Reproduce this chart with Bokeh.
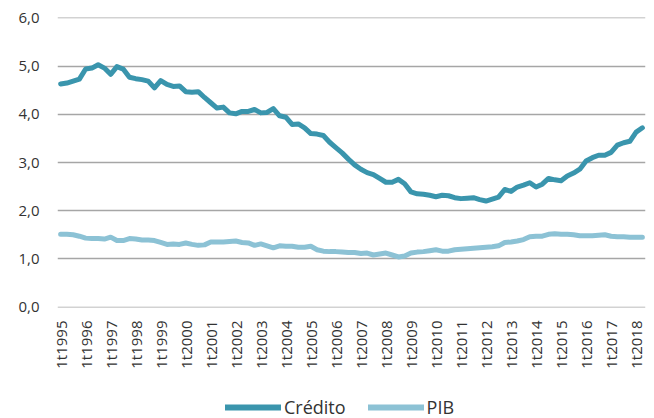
import math
from bokeh.plotting import figure
from bokeh.layouts import column
from bokeh.models import Range1d, FixedTicker, Legend, LegendItem
from bokeh.embed import file_html
from bokeh.resources import INLINE

# ---- data ----
years = list(range(1995, 2019))
quarters = [f"{q}t{y}" for y in years for q in range(1, 5)][:94]

credito = [
    4.63, 4.65, 4.69, 4.73, 4.94, 4.96, 5.03, 4.96, 4.83, 4.99,
    4.94, 4.77, 4.74, 4.72, 4.69, 4.55, 4.70, 4.62, 4.58, 4.59,
    4.47, 4.46, 4.47, 4.35, 4.24, 4.13, 4.15, 4.03, 4.01, 4.06,
    4.06, 4.10, 4.03, 4.04, 4.12, 3.97, 3.94, 3.79, 3.80, 3.72,
    3.60, 3.59, 3.56, 3.42, 3.31, 3.20, 3.07, 2.95, 2.86, 2.79,
    2.75, 2.67, 2.59, 2.59, 2.65, 2.56, 2.39, 2.35, 2.34, 2.32,
    2.29, 2.32, 2.31, 2.27, 2.25, 2.26, 2.27, 2.23, 2.20, 2.24,
    2.28, 2.44, 2.40, 2.49, 2.53, 2.58, 2.49, 2.55, 2.67, 2.64,
    2.62, 2.72, 2.78, 2.86, 3.03, 3.10, 3.15, 3.15, 3.21, 3.36,
    3.41, 3.44, 3.63, 3.72,
]

pib = [
    1.51, 1.51, 1.50, 1.47, 1.43, 1.42, 1.42, 1.41, 1.45, 1.38,
    1.38, 1.42, 1.41, 1.39, 1.39, 1.38, 1.34, 1.30, 1.31, 1.30,
    1.33, 1.30, 1.28, 1.29, 1.35, 1.35, 1.35, 1.36, 1.37, 1.34,
    1.33, 1.28, 1.31, 1.27, 1.23, 1.27, 1.26, 1.26, 1.24, 1.24,
    1.26, 1.19, 1.16, 1.15, 1.15, 1.14, 1.13, 1.13, 1.11, 1.12,
    1.08, 1.10, 1.12, 1.08, 1.04, 1.06, 1.12, 1.14, 1.15, 1.17,
    1.19, 1.16, 1.16, 1.19, 1.20, 1.21, 1.22, 1.23, 1.24, 1.25,
    1.27, 1.34, 1.35, 1.37, 1.40, 1.46, 1.47, 1.47, 1.51, 1.52,
    1.51, 1.51, 1.50, 1.48, 1.48, 1.48, 1.49, 1.50, 1.47, 1.46,
    1.46, 1.45, 1.45, 1.45,
]

series_names = ["Crédito", "PIB"]
y_ticks = [0, 1, 2, 3, 4, 5, 6]
y_tick_labels = ["0,0", "1,0", "2,0", "3,0", "4,0", "5,0", "6,0"]

# ---- styles ----
C_CRED = "#3a95ad"
C_PIB = "#8cc2d5"
GRID = "#a6a6a6"
TXT = "#333333"
FONT = "Open Sans"

x = list(range(len(credito)))
x_rng = (-0.5, len(quarters) - 0.5)

p = figure(
    width=654, height=384,
    output_backend="svg", toolbar_location=None,
    x_range=Range1d(*x_rng),
    y_range=Range1d(-0.01, 6.01),
    min_border_left=57, min_border_right=9,
    min_border_top=17, min_border_bottom=77,
)
p.outline_line_color = None
p.background_fill_color = "white"
p.border_fill_color = "white"

p.xgrid.grid_line_color = None
p.yaxis.ticker = FixedTicker(ticks=y_ticks)
p.ygrid.ticker = FixedTicker(ticks=y_ticks)
p.ygrid.grid_line_color = GRID
p.ygrid.grid_line_width = 1.3
p.ygrid.level = "underlay"

p.yaxis.major_label_overrides = {t: l for t, l in zip(y_ticks, y_tick_labels)}
p.xaxis.ticker = FixedTicker(ticks=list(range(0, len(quarters), 4)))
p.xaxis.major_label_overrides = {i: quarters[i] for i in range(0, len(quarters), 4)}
p.xaxis.major_label_orientation = math.pi / 2

for ax in (p.xaxis[0], p.yaxis[0]):
    ax.axis_line_color = None
    ax.major_tick_line_color = None
    ax.minor_tick_line_color = None
    ax.major_tick_out = 0
    ax.major_tick_in = 0
    ax.minor_tick_out = 0
    ax.major_label_text_font = FONT
    ax.major_label_text_font_size = "15px"
    ax.major_label_text_color = TXT
p.yaxis.major_label_standoff = 18
p.xaxis.major_label_standoff = 13

line_styles = dict(line_width=5, line_join="round", line_cap="round")
p.line(x, credito, line_color=C_CRED, **line_styles)
p.line(x, pib, line_color=C_PIB, **line_styles)

# ---- legend strip (separate small figure under the chart) ----
# Same series drawn again but with a y-range far above the data, so only
# the legend swatches are visible in this strip.
leg = figure(
    width=654, height=34,
    output_backend="svg", toolbar_location=None,
    x_axis_type=None, y_axis_type=None,
    x_range=Range1d(*x_rng), y_range=Range1d(100, 101),
    min_border_left=57, min_border_right=9,
    min_border_top=0, min_border_bottom=0,
)
leg.outline_line_color = None
leg.grid.grid_line_color = None
leg.background_fill_color = "white"
leg.border_fill_color = "white"
legend_styles = dict(line_width=6, line_join="round", line_cap="round")
lr1 = leg.line(x, credito, line_color=C_CRED, **legend_styles)
lr2 = leg.line(x, pib, line_color=C_PIB, **legend_styles)

legend = Legend(
    items=[LegendItem(label=series_names[0], renderers=[lr1]),
           LegendItem(label=series_names[1], renderers=[lr2])],
    location=(168, -1),
    orientation="horizontal",
    glyph_width=56, glyph_height=20,
    label_standoff=3, spacing=22,
    padding=0, margin=0,
    label_text_font=FONT, label_text_font_size="18px",
    label_text_color=TXT,
    border_line_color=None, background_fill_alpha=0,
)
leg.add_layout(legend, "center")

layout = column(p, leg, spacing=0)
open("out.html", "w").write(file_html(layout, INLINE))
